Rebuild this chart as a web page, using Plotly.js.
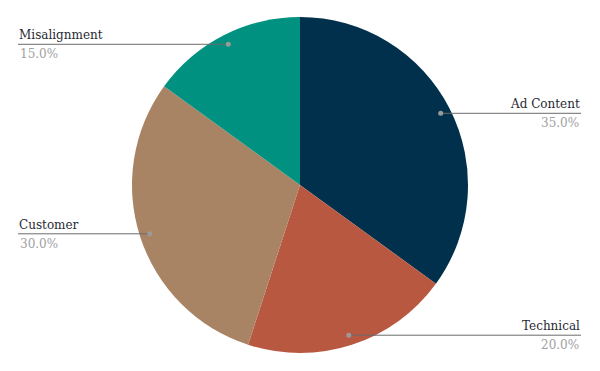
<!DOCTYPE html>
<html>
<head>
<meta charset="utf-8">
<script src="https://cdn.plot.ly/plotly-3.0.1.min.js"></script>
<style>html,body{margin:0;padding:0;background:#fff;}#chart{width:600px;height:371px;}</style>
</head>
<body>
<div id="chart"></div>
<script>
const categories = ["Ad Content", "Technical", "Customer", "Misalignment"];
const values = [35, 20, 30, 15];
const colors = ["#00304b", "#b85841", "#a98464", "#009180"];

const W = 600, H = 371;
const M = {l: 0, r: 0, t: 17, b: 18};
const plotH = H - M.t - M.b;
const cx = W / 2, cy = M.t + plotH / 2, R = plotH / 2;
const leftX = 18, rightX = 581, dotR = 0.94;

const px2x = p => p / W;
const px2y = p => (H - M.b - p) / plotH;

const total = values.reduce((a, b) => a + b, 0);
const shapes = [], annotations = [];
let cum = 0;
values.forEach((v, i) => {
  const mid = (cum + v / 2) / total * 2 * Math.PI;
  cum += v;
  const dx = cx + dotR * R * Math.sin(mid);
  const dy = cy - dotR * R * Math.cos(mid);
  const right = dx > cx;
  const x0 = right ? dx : leftX, x1 = right ? rightX : dx;
  shapes.push({type: "line", xref: "paper", yref: "paper",
    x0: px2x(x0), x1: px2x(x1), y0: px2y(dy), y1: px2y(dy),
    line: {color: "#6b6b6b", width: 1}});
  shapes.push({type: "circle", xref: "paper", yref: "paper",
    xsizemode: "pixel", ysizemode: "pixel",
    xanchor: px2x(dx), yanchor: px2y(dy),
    x0: -2.5, x1: 2.5, y0: -2.5, y1: 2.5,
    fillcolor: "#9a9a9a", line: {width: 0}});
  const ax = right ? px2x(rightX) : px2x(leftX);
  annotations.push({xref: "paper", yref: "paper", x: ax, y: px2y(dy - 1),
    xanchor: right ? "right" : "left", yanchor: "bottom", showarrow: false, borderpad: 0,
    text: categories[i], font: {family: "DejaVu Serif", size: 12, color: "#1f2a33"}});
  annotations.push({xref: "paper", yref: "paper", x: ax, y: px2y(dy + 1),
    xanchor: right ? "right" : "left", yanchor: "top", showarrow: false,
    text: (v / total * 100).toFixed(1) + "%", font: {family: "DejaVu Serif", size: 12, color: "#a0a0a0"}});
});

Plotly.newPlot("chart", [{
  type: "pie",
  labels: categories,
  values: values,
  sort: false,
  direction: "clockwise",
  rotation: 0,
  marker: {colors: colors, line: {width: 0}},
  textinfo: "none",
  hoverinfo: "label+percent",
  showlegend: false
}], {
  width: W, height: H,
  margin: M,
  paper_bgcolor: "#fff",
  shapes: shapes,
  annotations: annotations,
  showlegend: false
}, {displayModeBar: false, staticPlot: true});
</script>
</body>
</html>
